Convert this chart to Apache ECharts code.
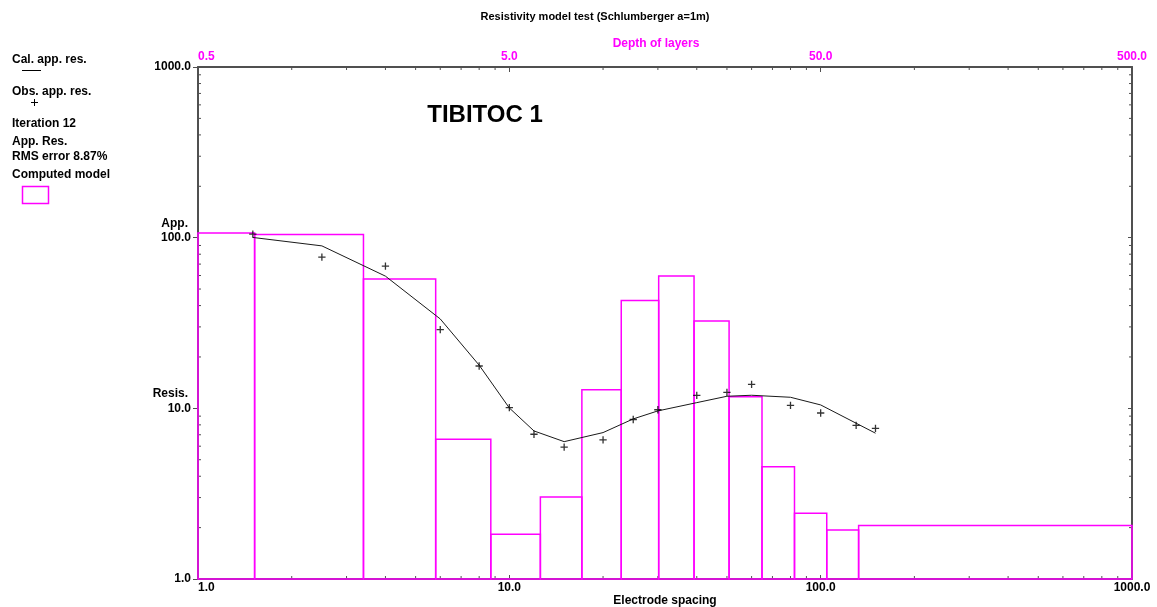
<!DOCTYPE html>
<html>
<head>
<meta charset="utf-8">
<script src="https://cdn.jsdelivr.net/npm/echarts@6/dist/echarts.min.js"></script>
<style>
  html, body { margin: 0; padding: 0; background: #ffffff; }
  #chart { width: 1157px; height: 607px; }
</style>
</head>
<body>
<div id="chart"></div>
<script>
// Schlumberger sounding: half electrode spacing AB/2 (m)
const spacing = [1.5, 2.5, 4, 6, 8, 10, 12, 15, 20, 25, 30, 40, 50, 60, 80, 100, 130, 150];
// Field apparent resistivity (ohm.m)
const observedRes = [105, 77.0, 68.2, 28.9, 17.7, 10.1, 7.05, 5.92, 6.53, 8.60, 9.81, 11.9, 12.4, 13.8, 10.4, 9.39, 7.95, 7.64];
// Apparent resistivity of the inverted model (ohm.m)
const calculatedRes = [100.3, 89.5, 59.5, 33.4, 17.9, 10.05, 7.37, 6.38, 7.21, 8.67, 9.66, 10.8, 11.77, 11.93, 11.61, 10.47, 8.18, 7.15];

// Computed layered model: bottom depth of each layer (m) and layer resistivity (ohm.m)
const layerBottomDepth = [0.76, 1.70, 2.90, 4.36, 6.29, 8.55, 11.44, 15.09, 19.6, 25.4, 32.4, 41.2, 52.3, 66.2];
const layerRes = [106.4, 104.5, 57.3, 6.59, 1.83, 3.02, 12.85, 42.8, 59.6, 32.5, 11.7, 4.54, 2.43, 1.94, 2.06];

// Axis ticks
const spacingTicks = [1, 10, 100, 1000];
const depthTicks = [0.5, 5, 50, 500];
const resTicks = [1, 10, 100, 1000];
const minorTicks = [2, 3, 4, 5, 6, 7, 8, 9, 20, 30, 40, 50, 60, 70, 80, 90, 200, 300, 400, 500, 600, 700, 800, 900];

// The depth axis shares the spacing scale: depth d sits at spacing d * depthToSpacing
const depthToSpacing = spacingTicks[0] / depthTicks[0];

const FONT = '"Liberation Sans", Arial, sans-serif';
const MAGENTA = '#ff00ff';
const FRAME = '#505050';
const xMin = spacingTicks[0], xMax = spacingTicks[spacingTicks.length - 1];
const yMin = resTicks[0], yMax = resTicks[resTicks.length - 1];

// Layer rectangles: [top, bottom, resistivity] on the spacing scale
const layerData = layerRes.map((rho, i) => {
  const top = i === 0 ? depthTicks[0] : layerBottomDepth[i - 1];
  const bottom = i < layerBottomDepth.length ? layerBottomDepth[i] : depthTicks[depthTicks.length - 1];
  return [top * depthToSpacing, bottom * depthToSpacing, rho];
});

function tickSeries(data, makeEnds) {
  return {
    type: 'custom',
    silent: true,
    clip: false,
    z: 1,
    data: data,
    renderItem: function (params, api) {
      const ends = makeEnds(api);
      return {
        type: 'line',
        shape: { x1: ends[0][0], y1: ends[0][1], x2: ends[1][0], y2: ends[1][1] },
        style: { stroke: FRAME, lineWidth: 1 }
      };
    }
  };
}

const chart = echarts.init(document.getElementById('chart'), null, { renderer: 'canvas' });

chart.setOption({
  animation: false,
  backgroundColor: '#ffffff',
  textStyle: { fontFamily: FONT },
  grid: { left: 198, right: 25, top: 67, bottom: 28, containLabel: false, outerBoundsMode: 'none' },
  xAxis: [
    {
      type: 'log', logBase: 10, min: xMin, max: xMax, position: 'bottom',
      name: 'Electrode spacing', nameLocation: 'middle', nameGap: 16, nameMoveOverlap: false,
      nameTextStyle: { color: '#000', fontWeight: 'bold', fontSize: 12, fontFamily: FONT },
      axisLine: { show: true, lineStyle: { color: FRAME, width: 2 } },
      axisTick: { show: true, inside: true, length: 4, lineStyle: { color: FRAME } },
      axisLabel: {
        color: '#000', fontWeight: 'bold', fontSize: 12, fontFamily: FONT, margin: 3,
        alignMinLabel: 'left',
        formatter: v => Number(v).toFixed(1)
      },
      splitLine: { show: false }
    },
    {
      type: 'log', logBase: 10, min: xMin, max: xMax, position: 'top',
      axisLine: { show: true, lineStyle: { color: FRAME, width: 2 } },
      axisTick: { show: true, inside: true, length: 5, lineStyle: { color: FRAME } },
      axisLabel: {
        color: MAGENTA, fontWeight: 'bold', fontSize: 12, fontFamily: FONT, margin: 4,
        alignMinLabel: 'left',
        formatter: v => (Number(v) / depthToSpacing).toFixed(1)
      },
      splitLine: { show: false }
    }
  ],
  yAxis: [
    {
      type: 'log', logBase: 10, min: yMin, max: yMax, position: 'left',
      axisLine: { show: true, lineStyle: { color: FRAME, width: 2 } },
      axisTick: { show: true, inside: false, length: 5, lineStyle: { color: FRAME } },
      axisLabel: {
        color: '#000', fontWeight: 'bold', fontSize: 12, fontFamily: FONT, margin: 7,
        formatter: v => Number(v).toFixed(1)
      },
      splitLine: { show: false }
    },
    {
      type: 'log', logBase: 10, min: yMin, max: yMax, position: 'right',
      axisLine: { show: true, lineStyle: { color: FRAME, width: 2 } },
      axisTick: { show: true, inside: true, length: 4, lineStyle: { color: FRAME } },
      axisLabel: { show: false },
      splitLine: { show: false }
    }
  ],
  graphic: [
    { type: 'text', style: { text: 'Resistivity model test (Schlumberger a=1m)', x: 595, y: 17, textAlign: 'center', textVerticalAlign: 'middle', font: 'bold 11px ' + FONT, fill: '#000' } },
    { type: 'text', style: { text: 'Depth of layers', x: 656, y: 44, textAlign: 'center', textVerticalAlign: 'middle', font: 'bold 12px ' + FONT, fill: MAGENTA } },
    { type: 'text', style: { text: 'TIBITOC 1', x: 485, y: 115, textAlign: 'center', textVerticalAlign: 'middle', font: 'bold 24px ' + FONT, fill: '#000' } },
    { type: 'text', style: { text: 'App.', x: 188, y: 224, textAlign: 'right', textVerticalAlign: 'middle', font: 'bold 12px ' + FONT, fill: '#000' } },
    { type: 'text', style: { text: 'Resis.', x: 188, y: 394, textAlign: 'right', textVerticalAlign: 'middle', font: 'bold 12px ' + FONT, fill: '#000' } },
    // Legend block
    { type: 'text', style: { text: 'Cal. app. res.', x: 12, y: 60, textVerticalAlign: 'middle', font: 'bold 12px ' + FONT, fill: '#000' } },
    { type: 'line', shape: { x1: 22, y1: 70.5, x2: 41, y2: 70.5 }, style: { stroke: '#000', lineWidth: 1 } },
    { type: 'text', style: { text: 'Obs. app. res.', x: 12, y: 92, textVerticalAlign: 'middle', font: 'bold 12px ' + FONT, fill: '#000' } },
    { type: 'line', shape: { x1: 31, y1: 102.5, x2: 38, y2: 102.5 }, style: { stroke: '#000', lineWidth: 1 } },
    { type: 'line', shape: { x1: 34.5, y1: 99, x2: 34.5, y2: 106 }, style: { stroke: '#000', lineWidth: 1 } },
    { type: 'text', style: { text: 'Iteration 12', x: 12, y: 124, textVerticalAlign: 'middle', font: 'bold 12px ' + FONT, fill: '#000' } },
    { type: 'text', style: { text: 'App. Res.', x: 12, y: 142, textVerticalAlign: 'middle', font: 'bold 12px ' + FONT, fill: '#000' } },
    { type: 'text', style: { text: 'RMS error 8.87%', x: 12, y: 157, textVerticalAlign: 'middle', font: 'bold 12px ' + FONT, fill: '#000' } },
    { type: 'text', style: { text: 'Computed model', x: 12, y: 175, textVerticalAlign: 'middle', font: 'bold 12px ' + FONT, fill: '#000' } },
    { type: 'rect', shape: { x: 22.5, y: 186.5, width: 26, height: 17 }, style: { fill: 'none', stroke: MAGENTA, lineWidth: 1.5 } }
  ],
  series: [
    {
      name: 'Computed model',
      type: 'custom',
      xAxisIndex: 1,
      yAxisIndex: 0,
      silent: true,
      z: 2,
      encode: { x: [0, 1], y: 2 },
      data: layerData,
      renderItem: function (params, api) {
        const p0 = api.coord([api.value(0), yMin]);
        const p1 = api.coord([api.value(1), api.value(2)]);
        return {
          type: 'rect',
          shape: { x: p0[0], y: p1[1], width: p1[0] - p0[0], height: p0[1] - p1[1] },
          style: { fill: 'none', stroke: MAGENTA, lineWidth: 1.5 }
        };
      }
    },
    {
      name: 'Cal. app. res.',
      type: 'line',
      xAxisIndex: 0,
      yAxisIndex: 0,
      z: 3,
      symbol: 'none',
      smooth: false,
      lineStyle: { color: '#1a1a1a', width: 1 },
      data: spacing.map((s, i) => [s, calculatedRes[i]])
    },
    {
      name: 'Obs. app. res.',
      type: 'scatter',
      xAxisIndex: 0,
      yAxisIndex: 0,
      z: 4,
      symbol: 'path://M3,0h1.3v7.3h-1.3zM0,3h7.3v1.3h-7.3z',
      symbolSize: 7.3,
      itemStyle: { color: '#000' },
      data: spacing.map((s, i) => [s, observedRes[i]])
    },
    // Minor ticks: bottom (up), top (down), left (right), right (left)
    tickSeries(minorTicks.map(v => [v, yMin]), api => { const p = api.coord([api.value(0), yMin]); return [p, [p[0], p[1] - 3]]; }),
    tickSeries(minorTicks.map(v => [v, yMin]), api => { const p = api.coord([api.value(0), yMax]); return [p, [p[0], p[1] + 3]]; }),
    tickSeries(minorTicks.map(v => [xMin, v]), api => { const p = api.coord([xMin, api.value(1)]); return [p, [p[0] + 3, p[1]]]; }),
    tickSeries(minorTicks.map(v => [xMin, v]), api => { const p = api.coord([xMax, api.value(1)]); return [p, [p[0] - 3, p[1]]]; })
  ]
});
</script>
</body>
</html>
